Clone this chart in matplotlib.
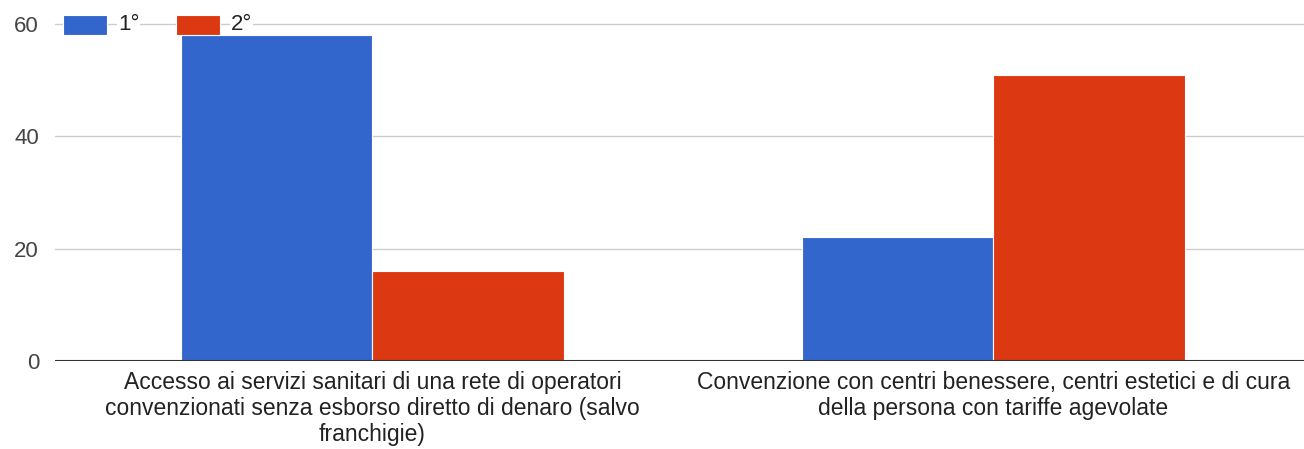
import matplotlib
matplotlib.use("Agg")
import matplotlib.pyplot as plt
import numpy as np

categories = [
    "Accesso ai servizi sanitari di una rete di operatori\nconvenzionati senza esborso diretto di denaro (salvo\nfranchigie)",
    "Convenzione con centri benessere, centri estetici e di cura\ndella persona con tariffe agevolate",
]
series_names = ["1°", "2°"]
first = [58, 22]
second = [16, 51]
yticks = [0, 20, 40, 60]

colors = ["#3366cc", "#dc3912"]

plt.rcParams['font.family'] = ['Liberation Sans', 'DejaVu Sans']

fig = plt.figure(figsize=(13.04, 4.49), dpi=100)
H = 449.0
ax = fig.add_axes([55/1304, (H-361)/H, 1 - 55/1304, (361-24)/H])

x = np.arange(len(categories))
w = 0.308
ax.bar(x - w/2, first, w, color=colors[0], edgecolor="white", linewidth=0.8, zorder=3)
ax.bar(x + w/2, second, w, color=colors[1], edgecolor="white", linewidth=0.8, zorder=3)

ax.set_xlim(-0.511, 1.5)
ax.set_ylim(0, 60)
ax.set_yticks(yticks)
ax.set_yticklabels([str(v) for v in yticks], fontsize=16, color="#444444")
for v in yticks[1:]:
    ax.axhline(v, color="#cccccc", linewidth=1, zorder=1, clip_on=False)
ax.axhline(0, color="#333333", linewidth=1.5, zorder=4)

ax.set_xticks(x)
ax.set_xticklabels(categories, fontsize=16.5, color="#222222", linespacing=1.16)
ax.tick_params(axis="both", length=0)
ax.tick_params(axis="y", pad=11.5)
ax.tick_params(axis="x", pad=7.5)
for s in ax.spines.values():
    s.set_visible(False)

# legend
ly = (H - 25) / H
for name, c, x0 in zip(series_names, colors, [63, 176]):
    fig.patches.append(plt.Rectangle((x0/1304, (H-35)/H), 44/1304, 20/H,
                                     transform=fig.transFigure, facecolor=c,
                                     edgecolor="white", linewidth=0.8, zorder=5))
    fig.text((x0 + 55)/1304, ly, name, fontsize=16, color="#222222", va="center",
             ha="left", zorder=6,
             bbox=dict(facecolor="white", edgecolor="none", pad=0.5))

fig.savefig("out.png", dpi=100)
